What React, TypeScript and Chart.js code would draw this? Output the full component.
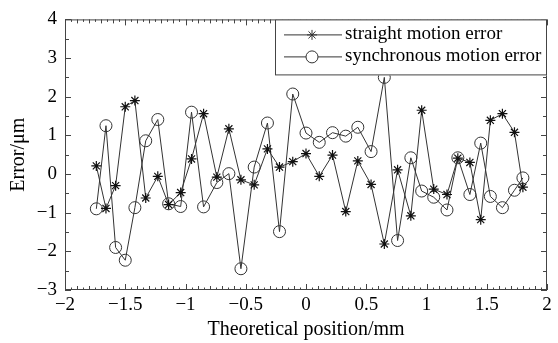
import React, { useEffect, useRef } from "react";
import { Chart, registerables } from "chart.js";

Chart.register(...registerables);

const positions = [
  -1.74, -1.66, -1.58, -1.5, -1.42, -1.33, -1.23, -1.14, -1.04, -0.95,
  -0.85, -0.74, -0.64, -0.54, -0.43, -0.32, -0.22, -0.11, 0.0, 0.11,
  0.22, 0.33, 0.43, 0.54, 0.65, 0.76, 0.87, 0.96, 1.06, 1.17,
  1.26, 1.36, 1.45, 1.53, 1.63, 1.73, 1.8,
];

const straightError = [
  0.21, -0.89, -0.3, 1.74, 1.9, -0.62, -0.06, -0.79, -0.48, 0.39,
  1.56, -0.08, 1.17, -0.15, -0.28, 0.65, 0.18, 0.32, 0.53, -0.06,
  0.49, -0.97, 0.34, -0.27, -1.81, 0.11, -1.08, 1.65, -0.39, -0.53,
  0.41, 0.3, -1.18, 1.39, 1.56, 1.08, -0.34,
];

const syncError = [
  -0.9, 1.25, -1.9, -2.23, -0.87, 0.86, 1.41, -0.77, -0.84, 1.6,
  -0.85, -0.22, 0.01, -2.45, 0.18, 1.32, -1.49, 2.07, 1.06, 0.82,
  1.07, 0.98, 1.21, 0.58, 2.5, -1.72, 0.42, -0.44, -0.6, -0.93,
  0.42, -0.53, 0.8, -0.58, -0.87, -0.42, -0.1,
];

const seriesNames = ["straight motion error", "synchronous motion error"];
const xTitle = "Theoretical position/mm";
const yTitle = "Error/\u03bcm";

const FONT = "'Liberation Serif', 'DejaVu Serif', serif";
const INK = "#333";

function fmt(v: number): string {
  const r = Math.round(v * 100) / 100;
  if (r === 0) return "0";
  return r < 0 ? "\u2212" + String(Math.abs(r)) : String(r);
}

function drawStar(ctx: CanvasRenderingContext2D, x: number, y: number, r: number) {
  ctx.beginPath();
  ctx.moveTo(x - r, y);
  ctx.lineTo(x + r, y);
  ctx.moveTo(x, y - r);
  ctx.lineTo(x, y + r);
  const d = r * Math.SQRT1_2;
  ctx.moveTo(x - d, y - d);
  ctx.lineTo(x + d, y + d);
  ctx.moveTo(x - d, y + d);
  ctx.lineTo(x + d, y - d);
  ctx.stroke();
}

const framePlugin = {
  id: "frameTicks",
  afterDraw(chart: any) {
    const { ctx, chartArea: a, scales } = chart;
    const xs = scales.x;
    const ys = scales.y;
    ctx.save();
    ctx.strokeStyle = "#444";
    ctx.lineWidth = 1;
    ctx.strokeRect(a.left + 0.5, a.top + 0.5, a.right - a.left - 1, a.bottom - a.top - 1);
    ctx.beginPath();
    for (let i = 0; i <= 80; i++) {
      const v = -2 + i * 0.05;
      const px = Math.round(xs.getPixelForValue(v)) + 0.5;
      const len = i % 10 === 0 ? 6 : i % 2 === 0 ? 4 : 2.5;
      ctx.moveTo(px, a.bottom);
      ctx.lineTo(px, a.bottom - len);
      ctx.moveTo(px, a.top);
      ctx.lineTo(px, a.top + len);
    }
    for (let i = 0; i <= 14; i++) {
      const v = -3 + i * 0.5;
      const py = Math.round(ys.getPixelForValue(v)) + 0.5;
      const len = i % 2 === 0 ? 6 : 4;
      ctx.moveTo(a.left, py);
      ctx.lineTo(a.left + len, py);
      ctx.moveTo(a.right, py);
      ctx.lineTo(a.right - len, py);
    }
    ctx.stroke();

    // legend box
    const bx = 275, by = a.top, bw = a.right - 275, bh = 56;
    ctx.fillStyle = "#fff";
    ctx.fillRect(bx, by, bw, bh);
    ctx.strokeStyle = "#444";
    ctx.strokeRect(bx + 0.5, by + 0.5, bw - 1, bh - 1);
    ctx.strokeStyle = INK;
    ctx.fillStyle = "#000";
    ctx.font = `19px ${FONT}`;
    ctx.textBaseline = "middle";
    const rows = [by + 15, by + 37];
    rows.forEach((ry, idx) => {
      ctx.beginPath();
      ctx.moveTo(284, ry + 0.5);
      ctx.lineTo(342, ry + 0.5);
      ctx.stroke();
      if (idx === 0) {
        drawStar(ctx, 312, ry + 0.5, 5);
      } else {
        ctx.beginPath();
        ctx.arc(312, ry + 0.5, 6, 0, Math.PI * 2);
        ctx.fillStyle = "#fff";
        ctx.fill();
        ctx.stroke();
        ctx.fillStyle = "#000";
      }
      ctx.fillText(seriesNames[idx], 345, ry);
    });
    ctx.restore();
  },
};

export default function App() {
  const ref = useRef<HTMLCanvasElement | null>(null);
  useEffect(() => {
    if (!ref.current) return;
    const chart = new Chart(ref.current, {
      type: "scatter",
      data: {
        datasets: [
          {
            label: seriesNames[0],
            data: positions.map((x, i) => ({ x, y: straightError[i] })),
            showLine: true,
            borderColor: INK,
            borderWidth: 1,
            pointStyle: "star",
            pointRadius: 5,
            pointBorderColor: "#111",
            pointBorderWidth: 1.2,
            pointBackgroundColor: "#111",
          },
          {
            label: seriesNames[1],
            data: positions.map((x, i) => ({ x, y: syncError[i] })),
            showLine: true,
            borderColor: INK,
            borderWidth: 1,
            pointStyle: "circle",
            pointRadius: 6,
            pointBorderColor: INK,
            pointBorderWidth: 1,
            pointBackgroundColor: "rgba(0,0,0,0)",
          },
        ],
      },
      plugins: [framePlugin],
      options: {
        animation: false,
        responsive: true,
        maintainAspectRatio: false,
        layout: { padding: { top: 16, right: 11, left: 0, bottom: 0 } },
        plugins: { legend: { display: false }, tooltip: { enabled: false } },
        scales: {
          x: {
            type: "linear",
            min: -2,
            max: 2,
            grid: { display: false, drawTicks: false },
            border: { display: false },
            ticks: {
              stepSize: 0.5,
              color: "#000",
              padding: 4,
              maxRotation: 0,
              autoSkip: false,
              font: { family: FONT, size: 19 },
              callback: (v: any) => fmt(Number(v)),
            },
            title: {
              display: true,
              text: xTitle,
              color: "#000",
              padding: { top: 0, bottom: 1 },
              font: { family: FONT, size: 20 },
            },
            afterFit: (s: any) => {
              s.height = 53;
            },
          },
          y: {
            type: "linear",
            min: -3,
            max: 4,
            grid: { display: false, drawTicks: false },
            border: { display: false },
            ticks: {
              stepSize: 1,
              color: "#000",
              padding: 8,
              autoSkip: false,
              font: { family: FONT, size: 19 },
              callback: (v: any) => fmt(Number(v)),
            },
            title: {
              display: true,
              text: yTitle,
              color: "#000",
              padding: { top: 7, bottom: 0 },
              font: { family: FONT, size: 20 },
            },
            afterFit: (s: any) => {
              s.width = 65;
            },
          },
        },
      },
    });
    return () => chart.destroy();
  }, []);
  return (
    <div style={{ position: "absolute", left: 0, top: 0, width: 558, height: 343, background: "#fff" }}>
      <canvas ref={ref} />
    </div>
  );
}
